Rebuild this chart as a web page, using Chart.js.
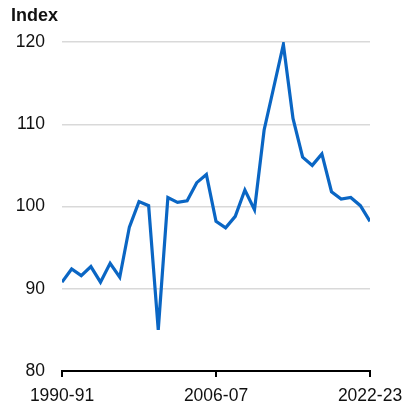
<!DOCTYPE html>
<html>
<head>
<meta charset="utf-8">
<script src="https://cdn.jsdelivr.net/npm/chart.js@4"></script>
<style>
  html, body { margin: 0; padding: 0; background: #fff; }
  #wrap { position: relative; width: 404px; height: 405px; }
</style>
</head>
<body>
<div id="wrap"><canvas id="chart" width="404" height="405"></canvas></div>
<script>
// financial years 1990-91 .. 2022-23
const years = [];
for (let y = 1990; y <= 2022; y++) {
  years.push(y + "-" + String((y + 1) % 100).padStart(2, "0"));
}
const indexValues = [
  90.8, 92.4, 91.6, 92.7, 90.8, 93.1, 91.4, 97.5, 100.6, 100.1,
  85.0, 101.1, 100.5, 100.7, 102.9, 103.9, 98.2, 97.4, 98.8, 102.0,
  99.6, 109.3, 114.5, 119.7, 110.7, 106.0, 105.0, 106.4, 101.8, 100.9,
  101.1, 100.1, 98.2,
];
const tickYears = ["1990-91", "2006-07", "2022-23"];
const yTicks = [80, 90, 100, 110, 120];

const FONT = "'Liberation Sans', Arial, sans-serif";

const titlePlugin = {
  id: "indexTitle",
  afterDraw(chart) {
    const ctx = chart.ctx;
    ctx.save();
    ctx.font = "bold 18px " + FONT;
    ctx.fillStyle = "#111";
    ctx.textBaseline = "middle";
    ctx.textAlign = "left";
    ctx.fillText("Index", 11, 16);
    ctx.restore();
  },
};

new Chart(document.getElementById("chart"), {
  type: "line",
  data: {
    datasets: [
      {
        label: "Index",
        data: indexValues.map((v, i) => ({ x: i, y: v })),
        borderColor: "#0a66c4",
        borderWidth: 3.2,
        pointRadius: 0,
        tension: 0,
        fill: false,
      },
    ],
  },
  options: {
    responsive: false,
    animation: false,
    layout: { padding: { left: 0, right: 34, top: 42, bottom: 0 } },
    plugins: { legend: { display: false }, tooltip: { enabled: false } },
    scales: {
      x: {
        type: "linear",
        min: 0,
        max: years.length - 1,
        afterBuildTicks: (scale) => {
          scale.ticks = tickYears.map((t) => ({ value: years.indexOf(t) }));
        },
        afterFit: (scale) => {
          scale.height = 34;
          scale.paddingLeft = 0;
          scale.paddingRight = 0;
        },
        ticks: {
          callback: (v) => years[v],
          maxRotation: 0,
          autoSkip: false,
          padding: 9,
          color: "#111",
          font: { family: FONT, size: 17.5 },
        },
        grid: {
          drawOnChartArea: false,
          drawTicks: true,
          tickLength: 6,
          color: "#000",
          lineWidth: 2,
        },
        border: { display: true, color: "#000", width: 2 },
      },
      y: {
        min: 80,
        max: 120,
        afterBuildTicks: (scale) => {
          scale.ticks = yTicks.map((v) => ({ value: v }));
        },
        afterFit: (scale) => {
          scale.width = 62;
        },
        ticks: {
          padding: 17,
          color: "#111",
          font: { family: FONT, size: 17.5 },
        },
        grid: { drawTicks: false, color: "#d9d9d9", lineWidth: 1.5 },
        border: { display: false },
      },
    },
  },
  plugins: [titlePlugin],
});
</script>
</body>
</html>
